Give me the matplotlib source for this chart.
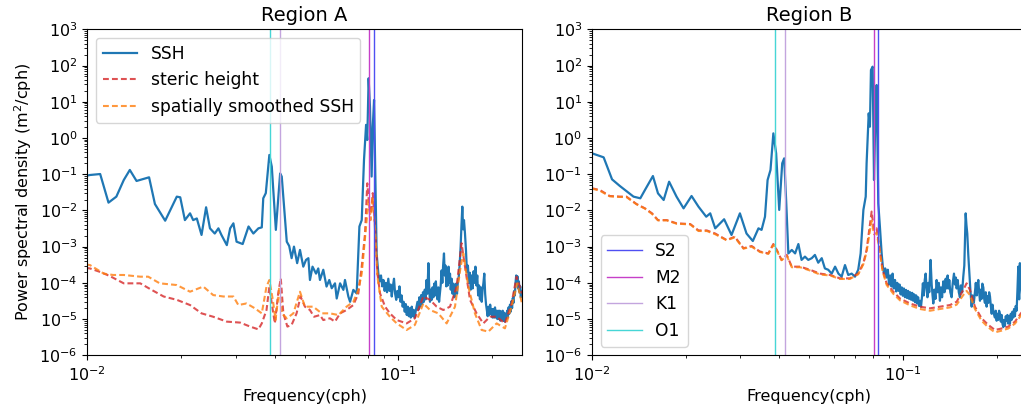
import matplotlib
matplotlib.use("Agg")
import matplotlib.pyplot as plt
from matplotlib.ticker import LogLocator, NullFormatter

# ---------------- Region A ----------------
freq_ssh_a = [0.0099, 0.0102, 0.0110, 0.0117, 0.0124, 0.0131, 0.0137, 0.0144, 0.0158, 0.0165,
              0.0178, 0.0194, 0.0199, 0.0206, 0.0214, 0.0219, 0.0225, 0.0233, 0.0241, 0.0248,
              0.0257, 0.0264, 0.0270, 0.0281, 0.0288, 0.0295, 0.0302, 0.0316, 0.0330, 0.0342,
              0.0355, 0.0364, 0.0368, 0.0375, 0.0385, 0.0392, 0.0404, 0.0417, 0.0422, 0.0438,
              0.0446, 0.0454, 0.0462, 0.0473, 0.0483, 0.0495, 0.0505, 0.0514, 0.0520, 0.0530,
              0.0544, 0.0553, 0.0560, 0.0574, 0.0588, 0.0600, 0.0611, 0.0626, 0.0634, 0.0650,
              0.0666, 0.0674, 0.0691, 0.0700, 0.0717, 0.0735, 0.0750, 0.0763, 0.0776, 0.0788,
              0.0795, 0.0803, 0.0811, 0.0821, 0.0828, 0.0836, 0.0844, 0.0852,
              0.0863, 0.0872, 0.0880, 0.0888, 0.0896, 0.0904, 0.0912, 0.0920, 0.0929, 0.0937,
              0.0945, 0.0953, 0.0961, 0.0969, 0.0977, 0.0985, 0.0993, 0.1001, 0.1009, 0.1017,
              0.1025, 0.1033, 0.1041, 0.1049, 0.1057, 0.1065, 0.1073, 0.1081, 0.1089, 0.1097,
              0.1105, 0.1113, 0.1121, 0.1129, 0.1137, 0.1145, 0.1153, 0.1161, 0.1169, 0.1177,
              0.1185, 0.1193, 0.1201, 0.1209, 0.1217, 0.1225, 0.1233, 0.1241, 0.1250, 0.1258,
              0.1265, 0.1273, 0.1281, 0.1289, 0.1297, 0.1305, 0.1313, 0.1321, 0.1329, 0.1337,
              0.1345, 0.1353, 0.1362, 0.1370, 0.1378, 0.1386, 0.1394, 0.1403, 0.1411, 0.1419,
              0.1427, 0.1435, 0.1443, 0.1451, 0.1459, 0.1467, 0.1475, 0.1485, 0.1495, 0.1505,
              0.1515, 0.1525, 0.1535, 0.1545, 0.1555, 0.1565, 0.1575, 0.1587, 0.1597, 0.1607,
              0.1617, 0.1627, 0.1639, 0.1651, 0.1663, 0.1675, 0.1687, 0.1699, 0.1711, 0.1723,
              0.1735, 0.1747, 0.1759, 0.1771, 0.1783, 0.1795, 0.1807, 0.1819, 0.1831, 0.1843,
              0.1855, 0.1867, 0.1879, 0.1891, 0.1903, 0.1915, 0.1927, 0.1939, 0.1951, 0.1963,
              0.1975, 0.1987, 0.1999, 0.2011, 0.2023, 0.2035, 0.2047, 0.2059, 0.2071, 0.2083,
              0.2095, 0.2107, 0.2119, 0.2131, 0.2143, 0.2155, 0.2167, 0.2179, 0.2191, 0.2203,
              0.2215, 0.2227, 0.2239, 0.2251, 0.2263, 0.2275, 0.2287, 0.2299, 0.2311, 0.2323,
              0.2335, 0.2347, 0.2359, 0.2371, 0.2383, 0.2395, 0.2407, 0.2419, 0.2431, 0.2443,
              0.2455, 0.2467, 0.2479, 0.2491, 0.2503]
psd_ssh_a = [0.090, 0.095, 0.101, 0.0164, 0.024, 0.069, 0.131, 0.065, 0.082, 0.015,
             0.0052, 0.024, 0.023, 0.0054, 0.0083, 0.0054, 0.0060, 0.0021, 0.0122, 0.0032,
             0.0023, 0.0032, 0.0021, 0.0011, 0.0032, 0.0044, 0.00137, 0.00118, 0.0036, 0.0023,
             0.0032, 0.0034, 0.0216, 0.030, 0.34, 0.161, 0.0029, 0.105, 0.086, 0.00137,
             0.00104, 0.00048, 0.0010, 0.00035, 0.00081, 0.00028, 0.00043, 0.00048, 0.00012, 0.00028,
             0.00018, 0.00025, 0.00012, 0.00023, 7.9e-5, 0.00012, 7.1e-5, 9.7e-5, 3.7e-5, 9.7e-5,
             6.4e-5, 0.00012, 4.2e-5, 3.0e-5, 6.4e-5, 5.1e-5, 0.0036, 0.0054, 0.25, 2.3,
             0.88, 44.5, 7.3, 0.086, 2.05, 11.2, 0.069, 0.00065,
             1.8e-4, 1.1e-4, 1.6e-4, 8.0e-5, 1.2e-4, 6.0e-5, 1.0e-4, 5.5e-5, 1.3e-4, 6.0e-5,
             9.0e-5, 4.2e-5, 8.0e-5, 1.3e-4, 5.0e-5, 3.4e-5, 6.0e-5, 4.0e-5, 8.0e-5, 3.0e-5,
             4.5e-5, 2.2e-5, 3.0e-5, 1.6e-5, 2.6e-5, 1.3e-5, 2.2e-5, 1.2e-5, 2.0e-5, 1.1e-5,
             2.2e-5, 1.2e-5, 1.8e-5, 1.1e-5, 1.6e-5, 2.2e-5, 3.0e-5, 1.8e-5, 4.0e-5, 2.2e-5,
             4.6e-5, 2.6e-5, 5.5e-5, 3.0e-5, 6.5e-5, 3.5e-5, 1.2e-4, 5.0e-5, 3.5e-4, 7.0e-5,
             3.0e-5, 6.5e-5, 3.4e-5, 7.5e-5, 4.0e-5, 9.5e-5, 4.5e-5, 1.1e-4, 5.0e-5, 3.5e-5,
             7.5e-5, 3.0e-5, 5.5e-5, 9.0e-5, 2.2e-4, 1.0e-4, 3.0e-4, 6.5e-4, 1.6e-4, 3.0e-4,
             8.0e-5, 1.9e-4, 8.5e-5, 2.8e-4, 1.0e-4, 1.8e-4, 6.5e-5, 1.3e-4, 5.0e-5, 9.5e-5,
             4.0e-5, 6.5e-5, 9.5e-5, 5.0e-5, 1.1e-4, 1.5e-4, 3.0e-4, 1.0e-3, 4.0e-3, 1.27e-2,
             3.0e-3, 5.4e-3, 2.3e-3, 8.0e-4, 2.0e-4, 3.0e-4, 1.0e-4, 1.9e-4, 6.5e-5, 1.6e-4,
             7.0e-5, 2.1e-4, 1.0e-4, 2.8e-4, 8.5e-5, 1.6e-4, 4.5e-5, 8.5e-5, 3.5e-5, 7.5e-5,
             3.0e-5, 6.5e-5, 1.0e-4, 1.8e-4, 5.0e-5, 2.6e-5, 1.8e-5, 1.2e-5, 2.2e-5, 1.3e-5,
             2.5e-5, 1.4e-5, 1.9e-5, 1.1e-5, 1.9e-5, 1.1e-5, 2.1e-5, 1.1e-5, 1.7e-5, 1.0e-5,
             1.7e-5, 1.0e-5, 1.7e-5, 9.0e-6, 1.6e-5, 1.0e-5, 1.7e-5, 9.0e-6, 1.5e-5, 8.5e-6,
             1.4e-5, 1.0e-5, 1.7e-5, 1.1e-5, 2.1e-5, 1.4e-5, 2.5e-5, 1.6e-5, 3.1e-5, 2.0e-5,
             3.8e-5, 2.8e-5, 6.0e-5, 4.5e-5, 1.0e-4, 1.6e-4, 1.1e-4, 1.5e-4, 7.0e-5, 1.1e-4,
             5.5e-5, 8.0e-5, 4.0e-5, 6.0e-5, 4.2e-5]

freq_steric_a = [0.0099, 0.0102, 0.0110, 0.0118, 0.0131, 0.0148, 0.0161, 0.0176, 0.0194, 0.0214,
                 0.0233, 0.0254, 0.0281, 0.0310, 0.0334, 0.0355, 0.0364, 0.0377, 0.0385, 0.0392,
                 0.0401, 0.0411, 0.0419, 0.0427, 0.0440, 0.0454, 0.0471, 0.0485, 0.0501, 0.0520,
                 0.0536, 0.0560, 0.0574, 0.0603, 0.0626, 0.0650, 0.0682, 0.0717, 0.0744, 0.0763,
                 0.0782, 0.0795, 0.0807, 0.0817, 0.0828, 0.0842, 0.0857, 0.0874, 0.0907, 0.0940,
                 0.0989, 0.1064, 0.1131, 0.1204, 0.1265, 0.1329, 0.1396, 0.1467, 0.1541, 0.1598,
                 0.1639, 0.1701, 0.1786, 0.1877, 0.1972, 0.2072, 0.2203, 0.2314, 0.2402, 0.2499]
psd_steric_a = [0.00026, 0.00025, 0.00020, 0.000155, 9.7e-5, 9.7e-5, 6.4e-5, 4.2e-5, 3.4e-5, 2.44e-5,
                1.44e-5, 1.16e-5, 8.5e-6, 8.0e-6, 6.2e-6, 5.2e-6, 7.6e-6, 1.78e-5, 7.9e-5, 2.7e-5,
                7.6e-6, 5.1e-5, 0.000133, 1.44e-5, 6.2e-6, 6.9e-6, 1.44e-5, 4.2e-5, 2.2e-5, 1.78e-5,
                1.16e-5, 1.29e-5, 9.4e-6, 1.05e-5, 8.5e-6, 1.44e-5, 1.78e-5, 2.44e-5, 5.1e-5, 0.00028,
                0.0023, 0.056, 0.0127, 0.0083, 0.030, 0.0036, 0.00018, 5.1e-5, 2.2e-5, 1.44e-5,
                9.4e-6, 7.6e-6, 1.05e-5, 4.2e-5, 3.4e-5, 2.2e-5, 1.78e-5, 2.2e-5, 7.9e-5, 0.00124,
                0.00028, 3.4e-5, 1.44e-5, 7.6e-6, 1.16e-5, 1.16e-5, 7.6e-6, 2.7e-5, 0.000148, 5.1e-5]

freq_smooth_a = [0.0099, 0.0102, 0.0113, 0.0121, 0.0131, 0.0148, 0.0157, 0.0171, 0.0194, 0.0214,
                 0.0236, 0.0254, 0.0274, 0.0295, 0.0306, 0.0325, 0.0346, 0.0364, 0.0377, 0.0385,
                 0.0395, 0.0403, 0.0415, 0.0422, 0.0438, 0.0460, 0.0483, 0.0501, 0.0533, 0.0567,
                 0.0603, 0.0642, 0.0682, 0.0717, 0.0744, 0.0763, 0.0788, 0.0803, 0.0815, 0.0828,
                 0.0844, 0.0857, 0.0885, 0.0940, 0.0989, 0.1064, 0.1131, 0.1204, 0.1265, 0.1345,
                 0.1431, 0.1522, 0.1587, 0.1619, 0.1680, 0.1764, 0.1854, 0.1948, 0.2072, 0.2203,
                 0.2314, 0.2414, 0.2499]
psd_smooth_a = [0.00032, 0.00031, 0.00018, 0.000165, 0.000165, 0.000148, 0.000148, 9.7e-5, 8.7e-5, 5.7e-5,
                7.9e-5, 4.6e-5, 4.2e-5, 4.2e-5, 2.44e-5, 2.7e-5, 1.98e-5, 1.44e-5, 7.9e-5, 0.00012,
                3.4e-5, 9.4e-6, 7.9e-5, 1.44e-5, 1.05e-5, 1.44e-5, 5.7e-5, 2.2e-5, 2.2e-5, 1.44e-5,
                1.44e-5, 1.29e-5, 2.2e-5, 3.0e-5, 6.4e-5, 0.00018, 0.0036, 0.0216, 0.0054, 0.024,
                0.0023, 0.000148, 2.2e-5, 1.16e-5, 7.6e-6, 5.0e-6, 6.9e-6, 2.7e-5, 1.78e-5, 1.44e-5,
                7.6e-6, 2.2e-5, 0.00028, 0.00065, 7.9e-5, 1.44e-5, 5.0e-6, 4.5e-6, 7.6e-6, 5.55e-6,
                2.2e-5, 9.7e-5, 2.7e-5]

# ---------------- Region B ----------------
freq_ssh_b = [0.0100, 0.0106, 0.0109, 0.0116, 0.0123, 0.0131, 0.0136, 0.0143, 0.0148, 0.0157,
              0.0163, 0.0170, 0.0177, 0.0187, 0.0197, 0.0209, 0.0220, 0.0233, 0.0240, 0.0249,
              0.0266, 0.0281, 0.0299, 0.0314, 0.0329, 0.0343, 0.0351, 0.0360, 0.0367, 0.0375,
              0.0383, 0.0391, 0.0400, 0.0409, 0.0415, 0.0421, 0.0428, 0.0439, 0.0450, 0.0461,
              0.0472, 0.0484, 0.0496, 0.0509, 0.0521, 0.0534, 0.0548, 0.0561, 0.0575, 0.0590,
              0.0605, 0.0620, 0.0635, 0.0651, 0.0667, 0.0684, 0.0701, 0.0718, 0.0731, 0.0746,
              0.0759, 0.0764, 0.0776, 0.0783, 0.0789, 0.0799, 0.0807, 0.0815, 0.0823, 0.0833,
              0.0843, 0.0854, 0.0861,
              0.0869, 0.0877, 0.0886, 0.0894, 0.0902, 0.0910, 0.0918, 0.0926, 0.0934, 0.0943,
              0.0951, 0.0959, 0.0967, 0.0975, 0.0983, 0.0991, 0.0999, 0.1007, 0.1015, 0.1023,
              0.1031, 0.1039, 0.1047, 0.1055, 0.1063, 0.1071, 0.1079, 0.1087, 0.1095, 0.1103,
              0.1111, 0.1119, 0.1127, 0.1135, 0.1143, 0.1151, 0.1159, 0.1167, 0.1175, 0.1183,
              0.1191, 0.1199, 0.1207, 0.1215, 0.1227, 0.1237, 0.1245, 0.1252, 0.1262, 0.1272,
              0.1283, 0.1293, 0.1304, 0.1315, 0.1325, 0.1336, 0.1348, 0.1360, 0.1372, 0.1382,
              0.1392, 0.1401, 0.1409, 0.1420, 0.1434, 0.1445, 0.1459, 0.1470, 0.1480, 0.1488,
              0.1500, 0.1512, 0.1525, 0.1535, 0.1550, 0.1563, 0.1575, 0.1583, 0.1591, 0.1600,
              0.1610, 0.1622, 0.1635, 0.1648, 0.1663, 0.1675, 0.1690, 0.1704, 0.1715, 0.1727,
              0.1738, 0.1747, 0.1758, 0.1769, 0.1780, 0.1790, 0.1800, 0.1813, 0.1825, 0.1835,
              0.1846, 0.1858, 0.1870, 0.1882, 0.1893, 0.1905, 0.1917, 0.1929, 0.1940, 0.1952,
              0.1964, 0.1976, 0.1988, 0.2001, 0.2013, 0.2026, 0.2038, 0.2051, 0.2064, 0.2077,
              0.2089, 0.2102, 0.2115, 0.2128, 0.2141, 0.2154, 0.2167, 0.2181, 0.2194, 0.2208,
              0.2222, 0.2236, 0.2249, 0.2263, 0.2277, 0.2291, 0.2305, 0.2320, 0.2334, 0.2342,
              0.2349, 0.2357, 0.2365, 0.2377, 0.2385, 0.2400, 0.2415, 0.2430, 0.2450, 0.2470,
              0.2500]
psd_ssh_b = [0.377, 0.318, 0.292, 0.072, 0.047, 0.031, 0.024, 0.0216, 0.0366, 0.089,
             0.0296, 0.0194, 0.062, 0.024, 0.0114, 0.025, 0.0127, 0.0067, 0.0083, 0.0032,
             0.0057, 0.0021, 0.0083, 0.0023, 0.00143, 0.0032, 0.0029, 0.0067, 0.069, 0.131,
             1.34, 0.377, 0.0103, 0.200, 0.274, 0.0194, 0.00065, 0.00081, 0.00065, 0.00118,
             0.00043, 0.00053, 0.00043, 0.00048, 0.00059, 0.00036, 0.00048, 0.00025, 0.00023, 0.00018,
             0.00028, 0.00018, 0.000148, 0.00031, 0.000165, 0.00018, 0.000148, 0.00023, 0.00065, 0.0103,
             0.024, 0.200, 4.79, 2.05, 75.0, 93.0, 0.069, 3.13, 29.0, 0.0157,
             0.0036, 0.00065, 0.00030,
             1.8e-4, 2.5e-4, 1.4e-4, 2.3e-4, 9.0e-5, 1.6e-4, 8.0e-5, 1.8e-4, 7.0e-5, 1.2e-4,
             5.8e-5, 1.0e-4, 6.0e-5, 9.0e-5, 4.8e-5, 7.5e-5, 4.4e-5, 7.0e-5, 4.0e-5, 6.4e-5,
             3.8e-5, 6.0e-5, 3.6e-5, 5.5e-5, 3.4e-5, 5.3e-5, 3.2e-5, 4.8e-5, 2.9e-5, 4.5e-5,
             2.7e-5, 4.0e-5, 2.3e-5, 3.2e-5, 2.2e-5, 4.0e-5, 9.7e-5, 4.5e-5, 1.2e-4, 1.8e-4,
             7.0e-5, 4.0e-5, 1.0e-4, 5.5e-5, 4.3e-4, 9.0e-5, 4.5e-5, 2.7e-5, 6.5e-5, 3.6e-5,
             1.2e-4, 5.5e-5, 1.0e-4, 3.2e-5, 7.5e-5, 4.0e-5, 1.1e-4, 5.5e-5, 1.3e-4, 7.0e-5,
             1.6e-4, 7.0e-5, 1.2e-4, 5.5e-5, 4.0e-5, 9.5e-5, 1.8e-4, 9.0e-5, 1.4e-4, 7.0e-5,
             1.2e-4, 5.5e-5, 4.0e-5, 8.5e-5, 5.5e-5, 1.48e-4, 3.0e-4, 1.5e-3, 8.3e-3, 4.0e-3,
             2.3e-3, 6.0e-4, 1.8e-4, 6.0e-5, 2.2e-5, 4.5e-5, 2.8e-5, 5.5e-5, 1.0e-4, 4.5e-5,
             8.5e-5, 1.2e-4, 5.5e-5, 3.2e-5, 6.5e-5, 3.6e-5, 9.5e-5, 7.5e-5, 3.6e-5, 2.8e-5,
             5.5e-5, 2.2e-5, 4.3e-5, 2.8e-5, 5.5e-5, 4.2e-5, 2.3e-5, 1.4e-5, 2.5e-5, 1.7e-5,
             1.3e-5, 1.1e-5, 1.7e-5, 9.0e-6, 1.4e-5, 9.5e-6, 1.7e-5, 1.4e-5, 8.5e-6, 1.3e-5,
             7.5e-6, 6.0e-6, 9.5e-6, 6.5e-6, 1.2e-5, 9.0e-6, 1.3e-5, 7.5e-6, 1.2e-5, 7.4e-6,
             1.4e-5, 9.5e-6, 1.6e-5, 1.1e-5, 1.9e-5, 1.2e-5, 2.3e-5, 1.7e-5, 6.0e-5, 1.5e-4,
             2.8e-4, 8.0e-5, 3.5e-5, 3.5e-4, 1.2e-4, 8.0e-5, 5.0e-5, 7.0e-5, 5.0e-5, 8.0e-5,
             1.0e-4]

freq_steric_b = [0.0100, 0.0106, 0.0114, 0.0123, 0.0129, 0.0139, 0.0148, 0.0156, 0.0163, 0.0174,
                 0.0187, 0.0207, 0.0220, 0.0234, 0.0249, 0.0271, 0.0288, 0.0307, 0.0326, 0.0347,
                 0.0369, 0.0383, 0.0393, 0.0407, 0.0423, 0.0439, 0.0467, 0.0502, 0.0541, 0.0583,
                 0.0627, 0.0675, 0.0718, 0.0746, 0.0764, 0.0779, 0.0793, 0.0807, 0.0823, 0.0839,
                 0.0860, 0.0886, 0.0931, 0.0978, 0.1053, 0.1134, 0.1222, 0.1315, 0.1416, 0.1488,
                 0.1563, 0.1602, 0.1642, 0.1704, 0.1790, 0.1881, 0.1976, 0.2077, 0.2181, 0.2292,
                 0.2395, 0.2500]
psd_steric_b = [0.0408, 0.0366, 0.025, 0.024, 0.024, 0.015, 0.0114, 0.0083, 0.0054, 0.0054,
                0.0044, 0.0042, 0.0028, 0.0028, 0.0023, 0.00152, 0.00188, 0.0009, 0.00104, 0.00073,
                0.00065, 0.00118, 0.00081, 0.00043, 0.00059, 0.00028, 0.00028, 0.00023, 0.00018, 0.000165,
                0.000133, 0.000133, 0.00018, 0.00035, 0.00081, 0.0029, 0.0093, 0.0029, 0.0032, 0.0010,
                0.00023, 9.7e-5, 5.7e-5, 3.7e-5, 2.7e-5, 2.2e-5, 1.98e-5, 2.2e-5, 2.44e-5, 3.0e-5,
                6.4e-5, 9.7e-5, 6.4e-5, 2.2e-5, 1.05e-5, 6.9e-6, 5.0e-6, 5.5e-6, 6.2e-6, 8.5e-6,
                1.44e-5, 2.2e-5]

freq_smooth_b = freq_steric_b
psd_smooth_b = [0.0400, 0.0350, 0.0245, 0.0235, 0.0235, 0.0148, 0.0112, 0.0080, 0.0053, 0.0053,
                0.0043, 0.0041, 0.0027, 0.0027, 0.0022, 0.0015, 0.0018, 0.00088, 0.0010, 0.00071,
                0.00063, 0.00112, 0.00078, 0.00042, 0.00056, 0.00027, 0.00027, 0.00022, 0.00017, 0.00016,
                0.000128, 0.000128, 0.000172, 0.00033, 0.00072, 0.0021, 0.0052, 0.0022, 0.0024, 0.0009,
                0.00021, 8.8e-5, 5.0e-5, 3.3e-5, 2.4e-5, 1.9e-5, 1.7e-5, 1.9e-5, 2.1e-5, 2.5e-5,
                4.6e-5, 6.0e-5, 4.6e-5, 1.9e-5, 9.0e-6, 5.9e-6, 4.3e-6, 4.8e-6, 5.5e-6, 7.5e-6,
                1.25e-5, 1.9e-5]

# Tidal constituent frequencies (cph)
tide_names = ["S2", "M2", "K1", "O1"]
tide_freqs = [1 / 12.0, 1 / 12.4206, 1 / 23.9345, 1 / 25.8193]
tide_colors = ["#4f4ff2", "#c640c8", "#c3a5de", "#46d6d6"]

regions = [
    ("Region A", freq_ssh_a, psd_ssh_a, freq_steric_a, psd_steric_a, freq_smooth_a, psd_smooth_a),
    ("Region B", freq_ssh_b, psd_ssh_b, freq_steric_b, psd_steric_b, freq_smooth_b, psd_smooth_b),
]

W, H = 1021, 412
fig = plt.figure(figsize=(W / 100, H / 100), dpi=100)
ax_a = fig.add_axes([87.3 / W, 1 - 355.3 / H, 434.7 / W, 326 / H])
ax_b = fig.add_axes([592.0 / W, 1 - 355.3 / H, 434.7 / W, 326 / H])

dash = (2.8, 1.5)
for ax, (title, fs, ps, fr, pr, fo, po) in zip([ax_a, ax_b], regions):
    l_ssh, = ax.loglog(fs, ps, color="tab:blue", lw=1.6, label="SSH")
    l_ster, = ax.loglog(fr, pr, color="tab:red", ls="--", dashes=dash, lw=1.5, alpha=0.8,
                        label="steric height")
    l_sm, = ax.loglog(fo, po, color="tab:orange", ls="--", dashes=dash, lw=1.5, alpha=0.8,
                      label="spatially smoothed SSH")
    tide_lines = []
    for name, f, c in zip(tide_names, tide_freqs, tide_colors):
        tide_lines.append(ax.axvline(f, color=c, lw=1.0, label=name))
    ax.set_xlim(0.01, 0.25)
    ax.set_ylim(1e-6, 1e3)
    ax.yaxis.set_major_locator(LogLocator(base=10, numticks=15))
    ax.yaxis.set_minor_locator(LogLocator(base=10, subs=range(2, 10), numticks=15))
    ax.yaxis.set_minor_formatter(NullFormatter())
    ax.xaxis.set_minor_formatter(NullFormatter())
    ax.tick_params(labelsize=11.5)
    ax.set_title(title, fontsize=14)
    ax.set_xlabel("Frequency(cph)", fontsize=11.5)
    if ax is ax_a:
        ax.set_ylabel("Power spectral density (m$^2$/cph)", fontsize=11.5)
        ax.legend(handles=[l_ssh, l_ster, l_sm], loc="upper left", fontsize=12.3)
    else:
        ax.legend(handles=tide_lines, loc="lower left", fontsize=12.3)

fig.savefig("out.png", dpi=100)
